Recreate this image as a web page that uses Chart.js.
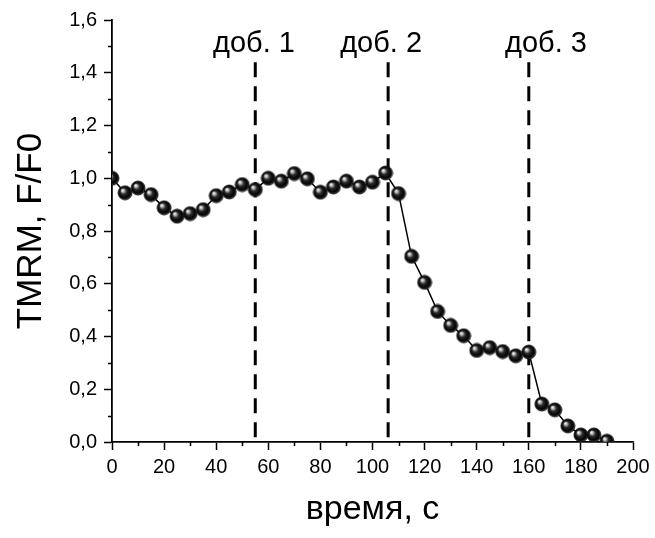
<!DOCTYPE html>
<html>
<head>
<meta charset="utf-8">
<script src="https://cdn.jsdelivr.net/npm/chart.js@4.4.1/dist/chart.umd.min.js"></script>
<style>
  html, body { margin: 0; padding: 0; background: #fff; }
  #chart { display: block; }
</style>
</head>
<body>
<canvas id="chart" width="655" height="538"></canvas>
<script>
  // time points (s) and TMRM fluorescence (F/F0)
  const timeSec = [0, 5, 10, 15, 20, 25, 30, 35, 40, 45, 50, 55, 60, 65, 70, 75, 80, 85, 90, 95,
    100, 105, 110, 115, 120, 125, 130, 135, 140, 145, 150, 155, 160, 165, 170, 175, 180, 185, 190];
  const tmrm = [1.00, 0.945, 0.963, 0.938, 0.888, 0.856, 0.866, 0.881, 0.934, 0.948, 0.976, 0.957,
    1.00, 0.989, 1.018, 0.998, 0.947, 0.967, 0.989, 0.967, 0.985, 1.02, 0.942, 0.704, 0.605,
    0.495, 0.442, 0.403, 0.347, 0.358, 0.343, 0.327, 0.341, 0.144, 0.122, 0.061, 0.027, 0.027, 0.003];

  // additions (dashed markers)
  const additionTimes = [55, 106, 160];
  const additionTop = 1.44;
  const additionLabels = ["доб. 1", "доб. 2", "доб. 3"];
  const additionLabelX = [54.5, 103.3, 166.6];
  const additionLabelY = 1.477;

  const xMinorTicks = [10, 30, 50, 70, 90, 110, 130, 150, 170, 190];
  const yMinorTicks = [0.1, 0.3, 0.5, 0.7, 0.9, 1.1, 1.3, 1.5];

  const FONT = "'Liberation Sans', Arial, sans-serif";

  // shiny black ball used as point marker
  function makeBall(r) {
    const size = r * 2 + 2;
    const c = document.createElement("canvas");
    c.width = size;
    c.height = size;
    const g = c.getContext("2d");
    const cx = size / 2, cy = size / 2;
    const grad = g.createRadialGradient(cx - r * 0.4, cy - r * 0.4, 0, cx, cy, r);
    grad.addColorStop(0, "#ffffff");
    grad.addColorStop(0.18, "#c8c8c8");
    grad.addColorStop(0.45, "#2a2a2a");
    grad.addColorStop(0.82, "#000000");
    grad.addColorStop(1, "#5a5a5a");
    g.beginPath();
    g.arc(cx, cy, r, 0, Math.PI * 2);
    g.fillStyle = grad;
    g.fill();
    g.lineWidth = 0.8;
    g.strokeStyle = "#000";
    g.stroke();
    return c;
  }
  const ball = makeBall(7);

  const dashedSets = additionTimes.map((t) => ({
    data: [{ x: t, y: additionTop }, { x: t, y: 0 }],
    borderColor: "#000",
    borderWidth: 3,
    borderDash: [15, 9],
    pointRadius: 0,
    fill: false,
  }));

  const extras = {
    id: "extras",
    afterDraw(chart) {
      const ctx = chart.ctx;
      const xs = chart.scales.x;
      const ys = chart.scales.y;
      const area = chart.chartArea;
      ctx.save();
      ctx.strokeStyle = "#000";
      ctx.lineWidth = 1.5;
      ctx.beginPath();
      xMinorTicks.forEach((v) => {
        const px = Math.round(xs.getPixelForValue(v)) + 0.5;
        ctx.moveTo(px, area.bottom);
        ctx.lineTo(px, area.bottom + 4);
      });
      yMinorTicks.forEach((v) => {
        const py = Math.round(ys.getPixelForValue(v)) + 0.5;
        ctx.moveTo(area.left, py);
        ctx.lineTo(area.left - 4, py);
      });
      ctx.stroke();

      ctx.fillStyle = "#000";
      ctx.font = "29px " + FONT;
      ctx.textAlign = "center";
      ctx.textBaseline = "alphabetic";
      additionLabels.forEach((txt, i) => {
        ctx.fillText(txt, xs.getPixelForValue(additionLabelX[i]), ys.getPixelForValue(additionLabelY));
      });
      ctx.restore();
    },
  };

  new Chart(document.getElementById("chart"), {
    type: "line",
    data: {
      datasets: [
        {
          data: timeSec.map((t, i) => ({ x: t, y: tmrm[i] })),
          borderColor: "#000",
          borderWidth: 1.5,
          pointStyle: ball,
          pointRadius: 7,
          tension: 0,
          fill: false,
        },
        ...dashedSets,
      ],
    },
    options: {
      responsive: false,
      animation: false,
      layout: { padding: { top: 20, right: 22, left: 0, bottom: 0 } },
      plugins: { legend: { display: false }, tooltip: { enabled: false } },
      scales: {
        x: {
          type: "linear",
          min: 0,
          max: 200,
          afterFit: (s) => { s.height = 96; },
          ticks: {
            stepSize: 20,
            color: "#000",
            padding: 5,
            maxRotation: 0,
            font: { family: FONT, size: 20 },
          },
          grid: { drawOnChartArea: false, tickLength: 8, tickColor: "#000", tickWidth: 1.5 },
          border: { color: "#000", width: 1.8 },
          title: {
            display: true,
            text: "время, с",
            color: "#000",
            font: { family: FONT, size: 34 },
            padding: { top: 0, bottom: 8 },
          },
        },
        y: {
          min: 0,
          max: 1.6,
          afterFit: (s) => { s.width = 112; },
          ticks: {
            stepSize: 0.2,
            color: "#000",
            padding: 7,
            font: { family: FONT, size: 20 },
            callback: (v) => v.toFixed(1).replace(".", ","),
          },
          grid: { drawOnChartArea: false, tickLength: 8, tickColor: "#000", tickWidth: 1.5 },
          border: { color: "#000", width: 1.8 },
          title: {
            display: true,
            text: "TMRM, F/F0",
            color: "#000",
            font: { family: FONT, size: 35 },
            padding: { top: 10, bottom: 0 },
          },
        },
      },
    },
    plugins: [extras],
  });
</script>
</body>
</html>
